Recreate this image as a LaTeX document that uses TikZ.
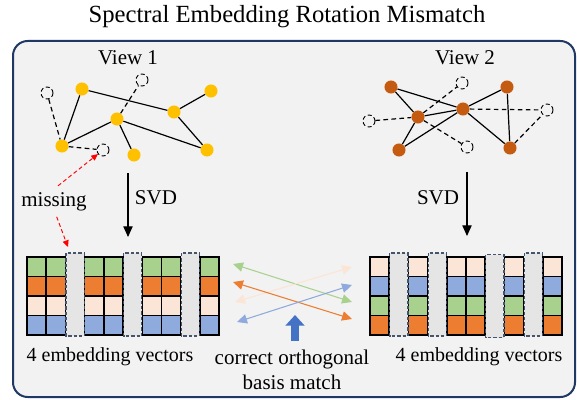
\documentclass[tikz,border=0pt]{standalone}
\usepackage{fontspec}
\setmainfont{Liberation Serif}
\usetikzlibrary{arrows.meta}

\definecolor{panelbg}{HTML}{F2F2F2}
\definecolor{panelline}{HTML}{203864}
\definecolor{dotyellow}{HTML}{FFC000}
\definecolor{dotorange}{HTML}{C55A11}
\definecolor{cellgreen}{HTML}{A9D18E}
\definecolor{cellorange}{HTML}{ED7D31}
\definecolor{cellpeach}{HTML}{FBE5D6}
\definecolor{cellblue}{HTML}{8FAADC}
\definecolor{gapfill}{HTML}{E5E5E5}
\definecolor{gapline}{HTML}{44546A}
\definecolor{bigblue}{HTML}{4472C4}

\begin{document}
\begin{tikzpicture}[x=0.75pt, y=-0.75pt,
	yel/.style={circle, fill=dotyellow, minimum size=9.8pt, inner sep=0pt},
	org/.style={circle, fill=dotorange, minimum size=9.8pt, inner sep=0pt},
	hol/.style={circle, draw=black, fill=panelbg, densely dashed, line width=0.7pt, minimum size=9pt, inner sep=0pt},
	edge/.style={line width=0.9pt},
	dedge/.style={line width=0.9pt, dash pattern=on 3.5pt off 2.5pt},
	txt/.style={font=\fontsize{15.75}{18.75}\selectfont, inner sep=0pt},
	cell/.style={draw=black, line width=1.1pt},
	gapcol/.style={draw=gapline, fill=gapfill, line width=0.9pt, dash pattern=on 2.5pt off 1.5pt},
	dbl/.style={line width=0.8pt, {Triangle[length=7.5pt,width=7pt]}-{Triangle[length=7.5pt,width=7pt]}},
	svdarrow/.style={line width=0.8pt, -{Triangle[length=8pt,width=7pt]}},
	missarrow/.style={red, line width=0.7pt, densely dashed, -{Triangle[length=5pt,width=4.5pt]}}]
	\useasboundingbox (0,0) rectangle (577,399);
	% panel and title
	\draw [panelline, fill=panelbg, line width=1.5pt, rounded corners=11pt] (13,41) rectangle (575,397);
	\node [txt, font=\fontsize{18.5}{22}\selectfont] (title) at (287,17) {Spectral Embedding Rotation Mismatch};
	\node [txt] (view1) at (128,58) {View 1};
	\node [txt] (view2) at (465,58) {View 2};
	% view 1 graph
	\node [yel] (y1) at (82,89) {};
	\node [yel] (y2) at (211,91) {};
	\node [yel] (y3) at (174,112) {};
	\node [yel] (y4) at (117,119) {};
	\node [yel] (y5) at (62,146) {};
	\node [yel] (y6) at (134,155) {};
	\node [yel] (y7) at (207,150) {};
	\node [hol] (h1) at (47,93) {};
	\node [hol] (h2) at (142,80) {};
	\node [hol] (h3) at (103,150) {};
	\draw [edge] (y1) -- (y3);
	\draw [edge] (y3) -- (y2);
	\draw [edge] (y3) -- (y7);
	\draw [edge] (y4) -- (y7);
	\draw [edge] (y4) -- (y5);
	\draw [edge] (y5) -- (y1);
	\draw [edge] (y4) -- (y6);
	\draw [dedge] (h1) -- (y5);
	\draw [dedge] (y5) -- (h3);
	\draw [dedge] (y4) -- (h2);
	% view 2 graph
	\node [org] (o1) at (391,87) {};
	\node [org] (o2) at (507,87) {};
	\node [org] (o3) at (463,109) {};
	\node [org] (o4) at (418,117) {};
	\node [org] (o5) at (399,150) {};
	\node [org] (o6) at (510,148) {};
	\node [hol] (k1) at (462,83) {};
	\node [hol] (k2) at (369,121) {};
	\node [hol] (k3) at (547,110) {};
	\node [hol] (k4) at (467,147) {};
	\draw [edge] (o1) -- (o3);
	\draw [edge] (o1) -- (o4);
	\draw [edge] (o4) -- (o3);
	\draw [edge] (o4) -- (o5);
	\draw [edge] (o5) -- (o3);
	\draw [edge] (o3) -- (o2);
	\draw [edge] (o2) -- (o6);
	\draw [edge] (o3) -- (o6);
	\draw [dedge] (o4) -- (k1);
	\draw [dedge] (k2) -- (o4);
	\draw [dedge] (o4) -- (k4);
	\draw [dedge] (o3) -- (k3);
	\draw [dedge] (o6) -- (k3);
	% svd steps
	\coordinate (s1a) at (128,173);
	\coordinate (s1b) at (128,237);
	\coordinate (s2a) at (467,172);
	\coordinate (s2b) at (467,236);
	\draw [svdarrow] (s1a) -- (s1b);
	\draw [svdarrow] (s2a) -- (s2b);
	\node [txt] (svd1) at (156,198) {SVD};
	\node [txt] (svd2) at (438,198) {SVD};
	% left matrix
	\foreach \c in {0,1,3,4,6,7,9}
		\foreach \r/\col in {0/cellgreen,1/cellorange,2/cellpeach,3/cellblue}
			\draw [cell, fill=\col] ({27+19.2*\c},{257+19.5*\r}) rectangle ++(19.2,19.5);
	\foreach \c in {2,5,8}
		\draw [gapcol] ({27.5+19.2*\c},253) rectangle ++(18.2,83);
	% right matrix
	\foreach \c in {0,2,4,5,7,9}
		\foreach \r/\col in {0/cellpeach,1/cellblue,2/cellgreen,3/cellorange}
			\draw [cell, fill=\col] ({370+19.2*\c},{257+19.5*\r}) rectangle ++(19.2,19.5);
	\foreach \c/\dy in {1/0,3/0,6/1.5,8/0}
		\draw [gapcol] ({370.5+19.2*\c},{253+\dy}) rectangle ++(18.2,83);
	% missing
	\node [txt] (miss) at (54,202) {missing};
	\coordinate (gaptop) at (68,247);
	\draw [missarrow] ([xshift=3pt,yshift=5pt]miss.north) -- (h3);
	\draw [missarrow] ([xshift=2pt,yshift=-4pt]miss.south) -- (gaptop);
	% basis matching
	\coordinate (ga) at (233,264);
	\coordinate (gb) at (352,302);
	\coordinate (pa) at (235,302);
	\coordinate (pb) at (352,267);
	\coordinate (ra) at (233,282);
	\coordinate (rb) at (352,319);
	\coordinate (ba) at (237,322);
	\coordinate (bb) at (352,285);
	\draw [dbl, cellgreen] (ga) -- (gb);
	\draw [dbl, cellpeach] (pa) -- (pb);
	\draw [dbl, cellorange] (ra) -- (rb);
	\draw [dbl, cellblue] (ba) -- (bb);
	\coordinate (up0) at (295,341);
	\coordinate (up1) at (295,315);
	\draw [bigblue, line width=6pt, -{Triangle[length=8pt,width=14pt]}] (up0) -- (up1);
	% captions
	\node [txt, font=\fontsize{15}{18}\selectfont] (emb1) at (110,357) {4 embedding vectors};
	\node [txt, font=\fontsize{15}{18}\selectfont] (emb2) at (479,357) {4 embedding vectors};
	\node [txt, align=center] (match) at (292,370) {correct orthogonal\\basis match};
\end{tikzpicture}
\end{document}
